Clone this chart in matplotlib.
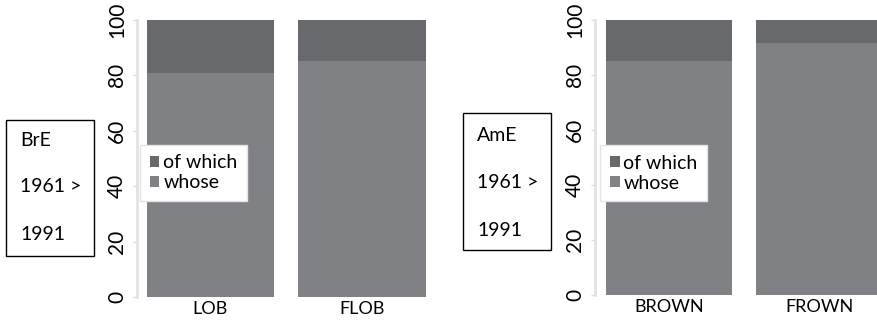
import matplotlib.pyplot as plt
from matplotlib.patches import Rectangle

# share (%) of "whose" vs. "of which" per corpus
brit_corpora = ["LOB", "FLOB"]
brit_whose = [80.8, 85.1]
amer_corpora = ["BROWN", "FROWN"]
amer_whose = [85.1, 91.7]
yticks = [0, 20, 40, 60, 80, 100]

dark = "#68696d"
light = "#808185"
font = "Lato"

fig = plt.figure(figsize=(8.78, 3.25), dpi=100)


def panel(rect, names, whose, xlim, legend_at):
    ax = fig.add_axes(rect)
    rest = [100 - w for w in whose]
    xs = range(len(names))
    b1 = ax.bar(xs, whose, width=0.84, color=light, linewidth=0)
    b2 = ax.bar(xs, rest, bottom=whose, width=0.84, color=dark, linewidth=0)
    ax.set_xlim(*xlim)
    ax.set_ylim(0, 100)
    ax.set_yticks(yticks)
    ax.set_yticklabels([str(t) for t in yticks], rotation=90, va="center",
                       fontsize=15, family=font)
    ax.set_xticks(list(xs))
    ax.set_xticklabels(names, fontsize=13, family=font)
    ax.tick_params(axis="x", length=0, pad=3)
    ax.tick_params(axis="y", length=3, width=1, color="#dddddd", pad=4)
    for s in ["top", "right", "bottom"]:
        ax.spines[s].set_visible(False)
    ax.spines["left"].set_color("#e2e2e2")
    ax.spines["left"].set_linewidth(2)
    leg = ax.legend([b2, b1], ["of which", "whose"], loc="upper left",
                    bbox_to_anchor=legend_at, frameon=True, fancybox=False,
                    handlelength=0.5, handleheight=0.5, handletextpad=0.2,
                    borderpad=0.5, labelspacing=0.15, borderaxespad=0,
                    prop={"family": font, "size": 14})
    leg.get_frame().set_edgecolor("#e4e4e4")
    leg.get_frame().set_linewidth(1)
    leg.get_frame().set_alpha(1)
    return ax


# left panel: British English
panel([137 / 878, 28 / 325, 299 / 878, 277 / 325], brit_corpora, brit_whose,
      (-0.485, 1.489), (0.01, 0.55))
# right panel: American English
panel([595 / 878, 30 / 325, 283 / 878, 275 / 325], amer_corpora, amer_whose,
      (-0.495, 1.39), (0.018, 0.545))


def side_box(x0, y0, x1, y1, tx, lines, ys):
    fig.patches.append(Rectangle((x0 / 878, 1 - y1 / 325), (x1 - x0) / 878,
                                 (y1 - y0) / 325, transform=fig.transFigure,
                                 fill=False, edgecolor="black", linewidth=1))
    for s, y in zip(lines, ys):
        fig.text(tx / 878, 1 - y / 325, s, fontsize=14, family=font,
                 va="center", ha="left")


side_box(6, 120, 94, 256, 20, ["BrE", "1961 >", "1991"], [140, 187, 235])
side_box(463, 113, 551, 250, 477, ["AmE", "1961 >", "1991"], [135, 183, 230])

fig.savefig("out.png", dpi=100)
